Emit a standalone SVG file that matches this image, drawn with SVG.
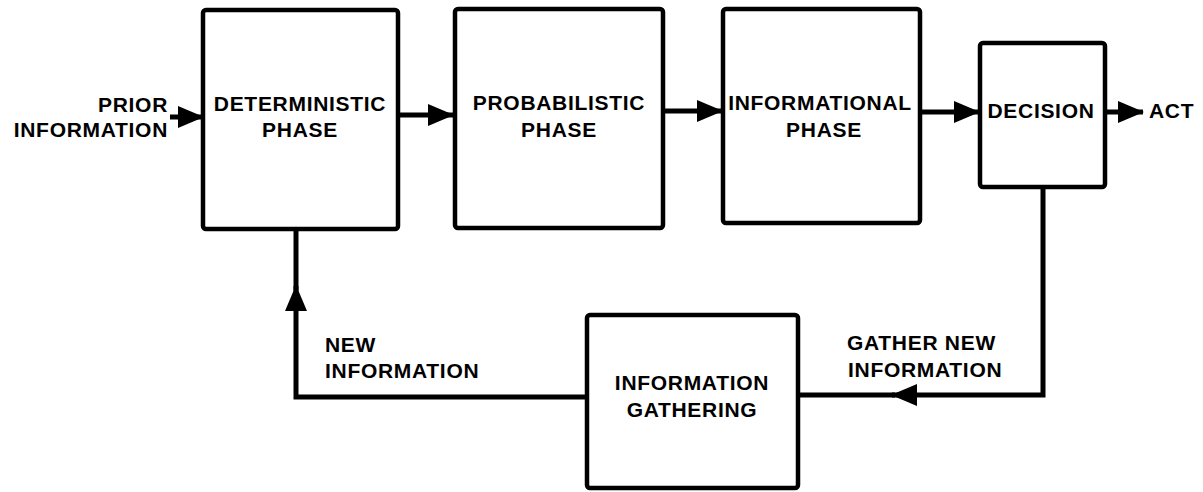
<svg xmlns="http://www.w3.org/2000/svg" width="1203" height="492" viewBox="0 0 1203 492">
<style>
.box{fill:#fff;stroke:#000;stroke-width:4.5}
.t{font-family:"Liberation Sans",Arial,sans-serif;font-weight:bold;font-size:21px;letter-spacing:0.7px;fill:#000}
.c{fill:none;stroke:#000;stroke-width:5}
</style>
<defs>
<marker id="ah" markerUnits="userSpaceOnUse" markerWidth="26" markerHeight="24" refX="25" refY="12" orient="auto" viewBox="0 0 26 24">
<path d="M0,1 L26,12 L0,23 z" fill="#000"/>
</marker>
</defs>
<rect width="1203" height="492" fill="#fff"/>
<g id="connectors">
<path class="c" d="M170,117 H203" marker-end="url(#ah)"/>
<path class="c" d="M398,115 H453" marker-end="url(#ah)"/>
<path class="c" d="M663,111 H722" marker-end="url(#ah)"/>
<path class="c" d="M920,112 H979" marker-end="url(#ah)"/>
<path class="c" d="M1105,112 H1143" marker-end="url(#ah)"/>
<path class="c" d="M1043,187 V395 H892" marker-end="url(#ah)"/>
<path class="c" d="M895,395 H798"/>
<path class="c" d="M587,397 H296 V286" marker-end="url(#ah)"/>
<path class="c" d="M296,290 V229"/>
</g>
<g id="prior-label">
<text class="t" x="168" y="112" text-anchor="end">PRIOR</text>
<text class="t" x="168" y="137" text-anchor="end">INFORMATION</text>
</g>
<g id="deterministic">
<rect class="box" x="203" y="10" width="195" height="219" rx="3"/>
<text class="t" x="300" y="111" text-anchor="middle">DETERMINISTIC</text>
<text class="t" x="300" y="137" text-anchor="middle">PHASE</text>
</g>
<g id="probabilistic">
<rect class="box" x="455" y="9" width="208" height="219" rx="3"/>
<text class="t" x="559" y="110" text-anchor="middle">PROBABILISTIC</text>
<text class="t" x="559" y="137" text-anchor="middle">PHASE</text>
</g>
<g id="informational">
<rect class="box" x="723" y="9" width="197" height="214" rx="3"/>
<text class="t" x="820" y="110" text-anchor="middle">INFORMATIONAL</text>
<text class="t" x="824" y="137" text-anchor="middle">PHASE</text>
</g>
<g id="decision">
<rect class="box" x="980" y="43" width="125" height="144" rx="3"/>
<text class="t" x="1041" y="118" text-anchor="middle">DECISION</text>
</g>
<g id="act">
<text class="t" x="1149" y="118">ACT</text>
</g>
<g id="gathering">
<rect class="box" x="587" y="315" width="211" height="173" rx="3"/>
<text class="t" x="692" y="390" text-anchor="middle">INFORMATION</text>
<text class="t" x="692" y="417" text-anchor="middle">GATHERING</text>
</g>
<g id="new-info-label">
<text class="t" x="325" y="352">NEW</text>
<text class="t" x="325" y="378">INFORMATION</text>
</g>
<g id="gather-label">
<text class="t" x="847" y="350">GATHER NEW</text>
<text class="t" x="848" y="377">INFORMATION</text>
</g>
</svg>
